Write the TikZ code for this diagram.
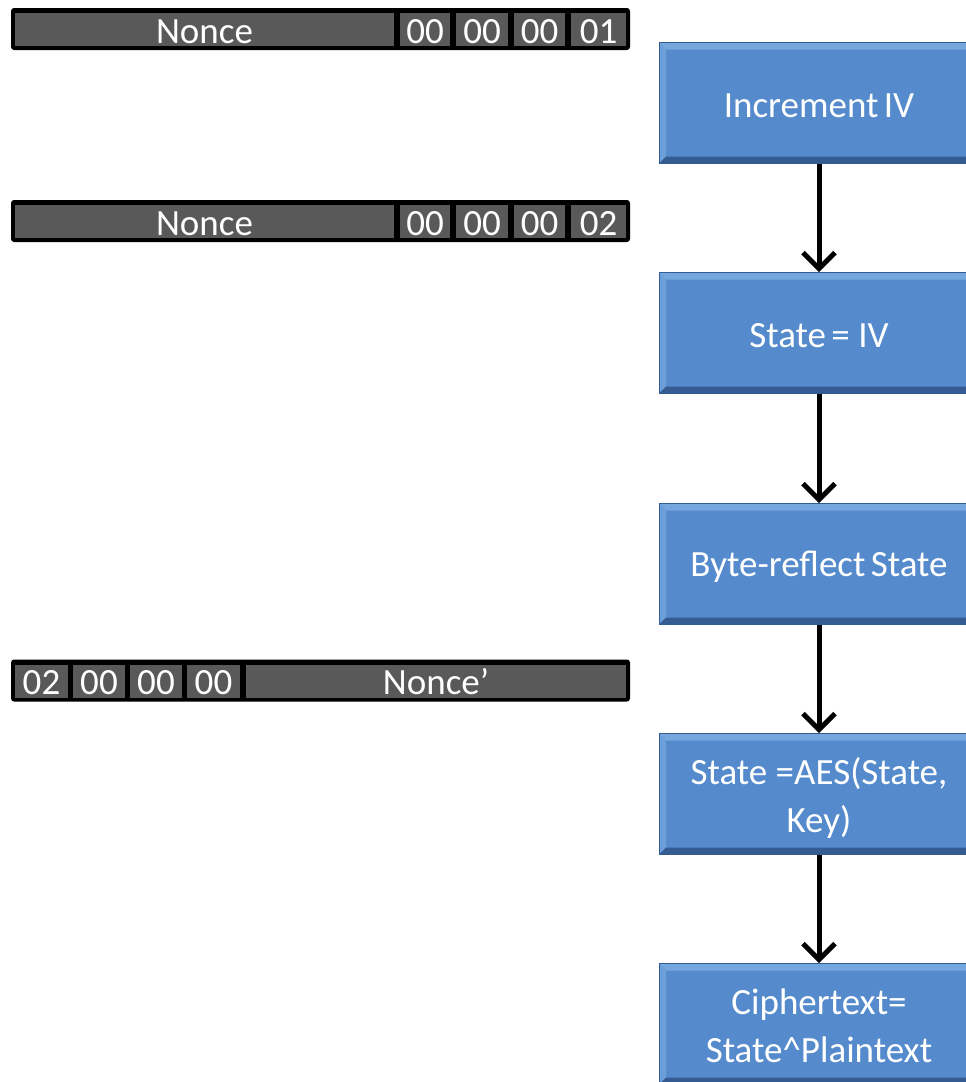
\documentclass[tikz,border=0pt]{standalone}
\usepackage{fontspec}
\setmainfont{Carlito}
\usetikzlibrary{arrows.meta}
\definecolor{cellgray}{RGB}{89,89,89}
\definecolor{boxblue}{RGB}{85,139,204}
\definecolor{bevdark}{RGB}{52,92,146}
\definecolor{bevlight}{RGB}{118,166,222}
\newcommand\lowr[2]{\raisebox{-#1}[\height][\depth]{#2}}
\begin{document}
\begin{tikzpicture}[x=1pt,y=-1pt,
  bar/.style={fill=black,rounded corners=3pt,minimum width=619pt,minimum height=42pt,inner sep=0pt},
  cell/.style={fill=cellgray,text=white,inner sep=0pt,minimum height=33pt,
    text height=27pt,text depth=0pt,font=\fontsize{37}{42}\selectfont},
  stepbox/.style={fill=boxblue,draw=bevdark,line width=0.8pt,minimum width=320pt,minimum height=121pt,
    inner sep=0pt,text=white,align=center,font=\fontsize{37}{48}\selectfont,
    path picture={
      \coordinate (pNW) at (path picture bounding box.north west);
      \coordinate (pNE) at (path picture bounding box.north east);
      \coordinate (pSW) at (path picture bounding box.south west);
      \coordinate (pSE) at (path picture bounding box.south east);
      \fill[bevlight] (pNW) -- (pNE) -- ([shift={(-7pt,-7pt)}]pNE) -- ([shift={(7pt,-7pt)}]pNW) -- cycle;
      \fill[bevlight!70!boxblue] (pNW) -- ([shift={(7pt,-7pt)}]pNW) -- ([shift={(7pt,7pt)}]pSW) -- (pSW) -- cycle;
      \fill[bevdark] (pSW) -- ([shift={(7pt,7pt)}]pSW) -- ([shift={(-7pt,7pt)}]pSE) -- (pSE) -- cycle;
      \fill[bevdark!70!boxblue] (pSE) -- ([shift={(-7pt,7pt)}]pSE) -- ([shift={(-7pt,-7pt)}]pNE) -- (pNE) -- cycle;
    }},
  arr/.style={line width=5pt,-{Straight Barb[length=16pt,width=32pt,line width=5pt]}}
]
\clip (0,0) rectangle (966,1082);
% bar 1
\node[bar] (bar1) at (320.5,29) {};
\node[cell,minimum width=379pt] (n1) at (204.5,29.5) {Nonce};
\node[cell,minimum width=50pt] (c11) at (425,29.5) {00};
\node[cell,minimum width=52pt] (c12) at (482,29.5) {00};
\node[cell,minimum width=51pt] (c13) at (539.5,29.5) {00};
\node[cell,minimum width=55pt] (c14) at (598.5,29.5) {01};
% bar 2
\node[bar] (bar2) at (320.5,221) {};
\node[cell,minimum width=379pt] (n2) at (204.5,221.5) {Nonce};
\node[cell,minimum width=50pt] (c21) at (425,221.5) {00};
\node[cell,minimum width=52pt] (c22) at (482,221.5) {00};
\node[cell,minimum width=51pt] (c23) at (539.5,221.5) {00};
\node[cell,minimum width=55pt] (c24) at (598.5,221.5) {02};
% bar 3
\node[bar] (bar3) at (320.5,680.5) {};
\node[cell,minimum width=53pt] (c31) at (41.5,681) {02};
\node[cell,minimum width=52pt] (c32) at (99,681) {00};
\node[cell,minimum width=52pt] (c33) at (156,681) {00};
\node[cell,minimum width=53pt] (c34) at (213.5,681) {00};
\node[cell,minimum width=380pt] (n3) at (436,681) {Nonce’};
% flow boxes
\node[stepbox] (b1) at (819,103) {\lowr{3pt}{Increment\hspace{-3pt} IV}};
\node[stepbox] (b2) at (819,333) {\lowr{3pt}{State\hspace{-3pt} = IV}};
\node[stepbox] (b3) at (819,564) {\lowr{3pt}{Byte-reflect\hspace{-3pt} State}};
\node[stepbox] (b4) at (819,794) {\lowr{5pt}{\begin{tabular}{@{}c@{}}State =AES(State,\\Key)\end{tabular}}};
\node[stepbox] (b5) at (819,1024) {\lowr{5pt}{\begin{tabular}{@{}c@{}}Ciphertext=\\State\textasciicircum Plaintext\end{tabular}}};
\draw[arr] (b1.south) -- (b2.north);
\draw[arr] (b2.south) -- (b3.north);
\draw[arr] (b3.south) -- (b4.north);
\draw[arr] (b4.south) -- (b5.north);
\end{tikzpicture}
\end{document}
